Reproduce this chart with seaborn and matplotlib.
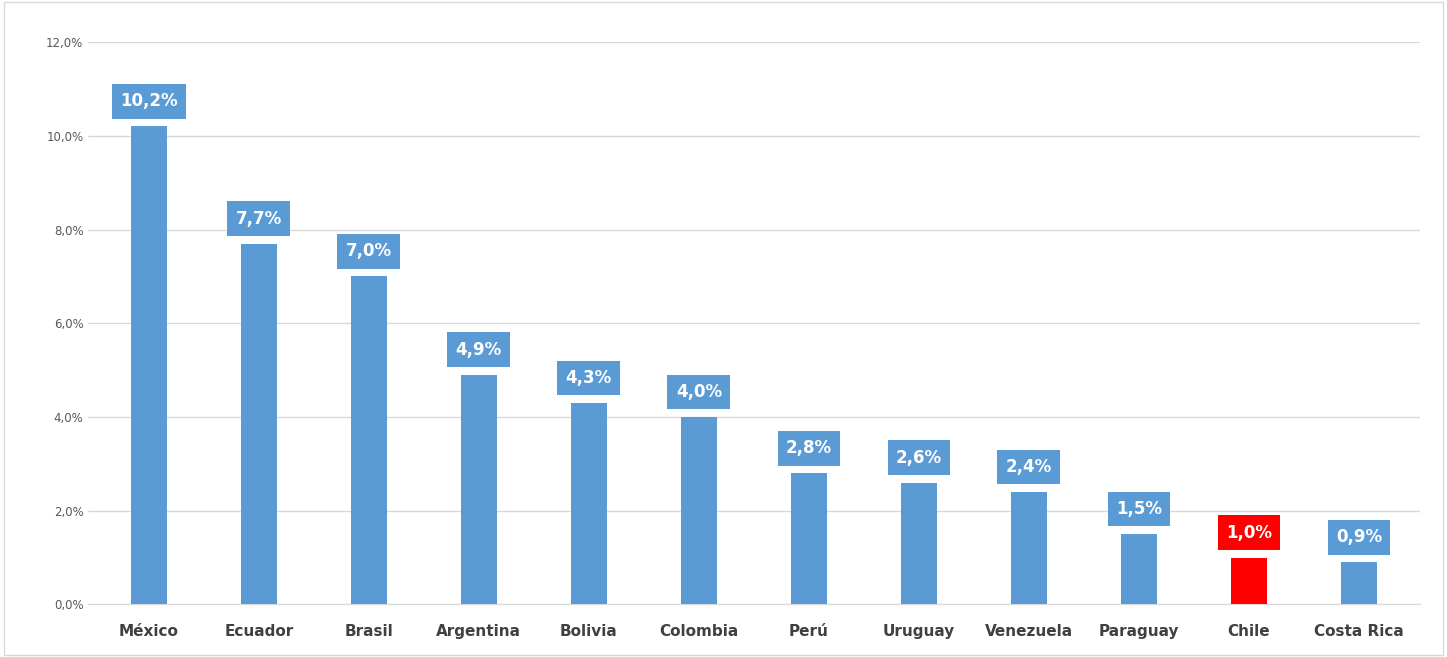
import matplotlib
matplotlib.use('Agg')
import matplotlib.pyplot as plt
import seaborn as sns
import pandas as pd

countries = ['México', 'Ecuador', 'Brasil', 'Argentina', 'Bolivia', 'Colombia',
             'Perú', 'Uruguay', 'Venezuela', 'Paraguay', 'Chile', 'Costa Rica']
values = [10.2, 7.7, 7.0, 4.9, 4.3, 4.0, 2.8, 2.6, 2.4, 1.5, 1.0, 0.9]
blue = '#5B9BD5'
red = '#FF0000'
colors = [red if c == 'Chile' else blue for c in countries]

df = pd.DataFrame({'country': countries, 'value': values})

sns.set_style('white')
plt.rcParams['font.family'] = ['DejaVu Sans']
fig = plt.figure(figsize=(14.47, 6.57), dpi=100)
ax = fig.add_axes([0.061, 0.08, 0.92, 0.856])

sns.barplot(data=df, x='country', y='value', hue='country', palette=colors,
            legend=False, width=0.33, saturation=1, linewidth=0, ax=ax, zorder=3)

ax.set_ylim(0, 12)
ax.set_yticks([0, 2, 4, 6, 8, 10, 12])
ax.set_yticklabels([f'{t:.1f}%'.replace('.', ',') for t in [0, 2, 4, 6, 8, 10, 12]],
                   fontsize=8.5, color='#595959')
ax.grid(axis='y', color='#D9D9D9', linewidth=1, zorder=0)
for s in ['top', 'right', 'left']:
    ax.spines[s].set_visible(False)
ax.spines['bottom'].set_color('#D9D9D9')
ax.tick_params(axis='y', length=0)
ax.tick_params(axis='x', length=0, pad=14)
ax.set_xlabel('')
ax.set_ylabel('')
for lbl in ax.get_xticklabels():
    lbl.set_fontweight('bold')
    lbl.set_fontsize(11)
    lbl.set_color('#404040')
ax.set_xlim(-0.55, len(countries) - 0.45)

for i, (v, c) in enumerate(zip(values, colors)):
    ax.annotate(f'{v:.1f}%'.replace('.', ','), (i, v), xytext=(0, 18),
                textcoords='offset points', ha='center', va='center',
                fontsize=12, fontweight='bold', color='white',
                bbox=dict(boxstyle='square,pad=0.5', fc=c, ec='none'), zorder=4)

fig.patches.append(plt.Rectangle((0.003, 0.003), 0.994, 0.994, transform=fig.transFigure,
                                 fill=False, ec='#D9D9D9', lw=1))
fig.savefig('out.png', dpi=100)
